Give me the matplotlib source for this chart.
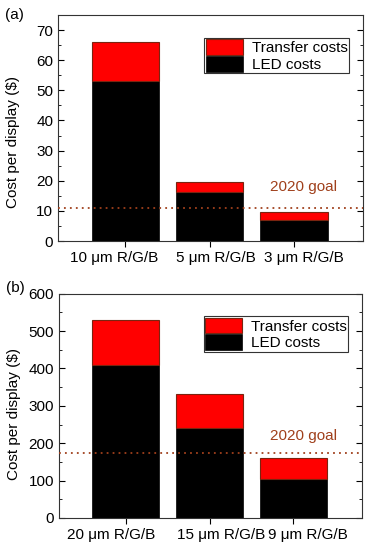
#!/usr/bin/env python
# coding=utf-8
"""
Cost per display: LED costs and transfer costs for different LED sizes
"""

import matplotlib
matplotlib.use('Agg')
import matplotlib.pyplot as plt
from matplotlib.ticker import MultipleLocator
from matplotlib.transforms import ScaledTranslation

plt.rcParams['font.family'] = ['Liberation Sans', 'DejaVu Sans']
plt.rcParams['font.size'] = 11

#  Panel (a)
labels_a = ['10 \u03bcm R/G/B', '5 \u03bcm R/G/B', '3 \u03bcm R/G/B']
led_a = [53, 16.2, 7]
total_a = [66, 19.7, 9.7]
goal_a = 11

#  Panel (b)
labels_b = ['20 \u03bcm R/G/B', '15 \u03bcm R/G/B', '9 \u03bcm R/G/B']
led_b = [410, 240, 104]
total_b = [530, 332, 160]
goal_b = 173

red = '#ff0000'
red_edge = '#7a2410'
goal_color = '#a0401c'


def draw_panel(fig, ax, labels, led, total, goal, ymax, major, minor,
               goal_text_y, tag, label_shift, ylabel_y, tag_y):
    pos = list(range(1, len(labels) + 1))
    transfer = [t - l for t, l in zip(total, led)]

    ax.bar(pos, led, width=0.8, color='black', edgecolor='black',
           linewidth=0.5, label='LED costs', zorder=2)
    ax.bar(pos, transfer, bottom=led, width=0.8, color=red,
           edgecolor=red_edge, linewidth=0.8, label='Transfer costs',
           zorder=2)

    ax.axhline(goal, color=goal_color, linestyle=(0, (1, 2.3)),
               linewidth=1.3, zorder=3)
    ax.text(2.72, goal_text_y, '2020 goal', color=goal_color,
            fontsize=11, va='center', ha='left')

    ax.set_xlim(0.2, 3.82)
    ax.set_ylim(0, ymax)
    ax.set_xticks(pos)
    ax.set_xticklabels(labels)
    ax.yaxis.set_major_locator(MultipleLocator(major))
    ax.yaxis.set_minor_locator(MultipleLocator(minor))
    ax.tick_params(axis='y', which='both', direction='in', right=True,
                   labelsize=11, pad=3.5)
    ax.tick_params(axis='y', which='major', length=4)
    ax.tick_params(axis='y', which='minor', length=2.5)
    ax.tick_params(axis='x', direction='out', length=4, labelsize=11)
    ax.set_ylabel('Cost per display ($)', fontsize=11)
    ax.yaxis.set_label_coords(-0.126, ylabel_y)

    #  Shift tick labels sideways as in the original figure
    for lab, dx in zip(ax.get_xticklabels(), label_shift):
        lab.set_transform(lab.get_transform() +
                          ScaledTranslation(dx / 100.0, 0,
                                            fig.dpi_scale_trans))

    for sp in ax.spines.values():
        sp.set_linewidth(0.8)
        sp.set_color('#333333')

    handles, labs = ax.get_legend_handles_labels()
    leg = ax.legend(handles[::-1], labs[::-1], loc='upper right',
                    bbox_to_anchor=(0.955, 0.9), fontsize=11,
                    fancybox=False, edgecolor='#333333', framealpha=1,
                    handlelength=2.4, handleheight=1.2, labelspacing=0.05,
                    borderpad=0.1, handletextpad=0.6, borderaxespad=0)
    leg.get_frame().set_linewidth(0.8)

    ax.text(-0.175, tag_y, tag, transform=ax.transAxes, fontsize=11,
            ha='left', va='center')


if __name__ == '__main__':
    fig = plt.figure(figsize=(3.71, 5.5), dpi=100)

    ax_a = fig.add_axes([0.1563, 0.5618, 0.822, 0.411])
    draw_panel(fig, ax_a, labels_a, led_a, total_a, goal_a, 75, 10, 5,
               18, '(a)', [-11.5, 6.5, 10.5], 0.44, 1.0)

    ax_b = fig.add_axes([0.159, 0.0582, 0.8167, 0.4078])
    draw_panel(fig, ax_b, labels_b, led_b, total_b, goal_b, 600, 100, 50,
               219, '(b)', [-14.5, 11, 15], 0.464, 1.025)

    fig.savefig('out.png', dpi=100)
    plt.close()
